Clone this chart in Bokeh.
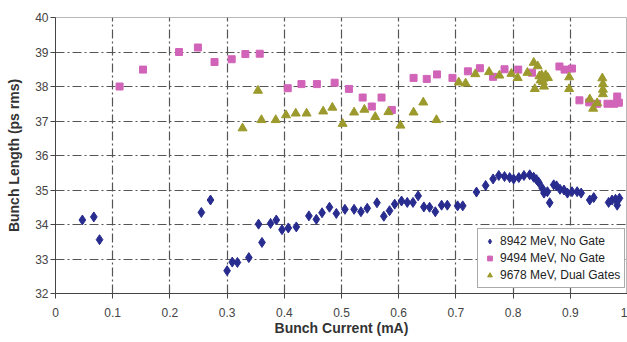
from bokeh.plotting import figure
from bokeh.models import FixedTicker, Range1d, Legend, LegendItem
from bokeh.embed import file_html
from bokeh.resources import INLINE

# ---- data ----
blue_x = [0.047, 0.067, 0.077, 0.255, 0.271, 0.300, 0.309, 0.318, 0.338, 0.355, 0.361, 0.376, 0.386,
          0.396, 0.407, 0.421, 0.443, 0.456, 0.466, 0.479, 0.491, 0.506, 0.522, 0.534, 0.545, 0.562,
          0.574, 0.584, 0.593, 0.605, 0.615, 0.625, 0.634, 0.644, 0.654, 0.664, 0.675, 0.685, 0.703,
          0.712, 0.736, 0.752, 0.765, 0.775, 0.785, 0.794, 0.801, 0.810, 0.819, 0.829, 0.836, 0.841,
          0.845, 0.851, 0.854, 0.860, 0.864, 0.871, 0.876, 0.882, 0.889, 0.895, 0.903, 0.912, 0.919,
          0.934, 0.941, 0.967, 0.973, 0.979, 0.982, 0.986]
blue_y = [34.13, 34.22, 33.56, 34.35, 34.71, 32.66, 32.91, 32.90, 33.04, 34.01, 33.48, 34.03, 34.13,
          33.85, 33.90, 33.93, 34.25, 34.15, 34.34, 34.50, 34.32, 34.44, 34.44, 34.37, 34.47, 34.63,
          34.24, 34.40, 34.59, 34.68, 34.64, 34.64, 34.83, 34.51, 34.50, 34.37, 34.56, 34.56, 34.54,
          34.54, 34.94, 35.13, 35.32, 35.42, 35.39, 35.36, 35.32, 35.36, 35.42, 35.44, 35.37, 35.30,
          35.22, 35.05, 34.91, 34.95, 34.63, 35.15, 35.12, 35.02, 35.00, 34.91, 34.95, 34.95, 34.91,
          34.71, 34.78, 34.64, 34.71, 34.73, 34.56, 34.76]

pink_x = [0.112, 0.153, 0.216, 0.249, 0.278, 0.308, 0.332, 0.357, 0.406, 0.430, 0.457, 0.488, 0.513,
          0.537, 0.553, 0.570, 0.588, 0.626, 0.649, 0.667, 0.694, 0.721, 0.742, 0.765, 0.785, 0.809,
          0.833, 0.881, 0.890, 0.903, 0.916, 0.933, 0.947, 0.965, 0.977, 0.982, 0.985]
pink_y = [38.00, 38.49, 39.00, 39.13, 38.71, 38.79, 38.94, 38.95, 37.95, 38.07, 38.07, 38.11, 37.93,
          37.68, 37.42, 37.68, 37.32, 38.25, 38.22, 38.35, 38.25, 38.44, 38.53, 38.28, 38.50, 38.49,
          38.40, 38.58, 38.49, 38.52, 37.60, 37.54, 37.50, 37.50, 37.50, 37.71, 37.53]

olive_x = [0.327, 0.354, 0.360, 0.385, 0.403, 0.420, 0.439, 0.468, 0.484, 0.502, 0.522, 0.540, 0.559,
           0.582, 0.603, 0.626, 0.643, 0.666, 0.705, 0.717, 0.734, 0.758, 0.776, 0.797, 0.808, 0.825,
           0.836, 0.838, 0.843, 0.846, 0.850, 0.853, 0.857, 0.861, 0.852, 0.848, 0.854, 0.898, 0.898,
           0.934, 0.940, 0.947, 0.956, 0.957, 0.957, 0.957]
olive_y = [36.79, 37.88, 37.03, 37.03, 37.17, 37.22, 37.22, 37.28, 37.39, 36.92, 37.25, 37.33, 37.12,
           37.26, 36.87, 37.25, 37.54, 37.03, 38.12, 38.09, 38.36, 38.42, 38.32, 38.37, 38.25, 38.40,
           38.69, 37.93, 38.59, 38.30, 38.33, 38.23, 38.33, 38.25, 38.13, 38.18, 38.00, 38.27, 37.93,
           37.63, 37.36, 37.52, 38.24, 38.07, 37.91, 37.78]

series_labels = ["8942 MeV, No Gate", "9494 MeV, No Gate", "9678 MeV, Dual Gates"]
x_ticks = [0, 0.1, 0.2, 0.3, 0.4, 0.5, 0.6, 0.7, 0.8, 0.9, 1.0]
x_tick_labels = ["0", "0.1", "0.2", "0.3", "0.4", "0.5", "0.6", "0.7", "0.8", "0.9", "1"]
y_ticks = [32, 33, 34, 35, 36, 37, 38, 39, 40]

FONT = "Liberation Sans"
BLUE = "#282C8E"
PINK = "#D164B8"
OLIVE = "#9C9A2C"

p = figure(width=627, height=342, output_backend="svg", toolbar_location=None,
           x_range=Range1d(0, 1), y_range=Range1d(32, 40),
           min_border_left=55, min_border_right=0, min_border_top=17, min_border_bottom=49)

p.outline_line_color = "#B8B8B8"
p.background_fill_color = "white"
p.border_fill_color = "white"

for ax in (p.xaxis[0], p.yaxis[0]):
    ax.axis_line_color = "#444444"
    ax.major_tick_line_color = "#444444"
    ax.minor_tick_line_color = None
    ax.major_label_text_font = FONT
    ax.major_label_text_font_size = "12px"
    ax.major_label_text_color = "#444444"
    ax.axis_label_text_font = FONT
    ax.axis_label_text_font_size = "14px"
    ax.axis_label_text_font_style = "bold"
    ax.axis_label_text_color = "#333333"

p.xaxis.ticker = FixedTicker(ticks=x_ticks)
p.xaxis.major_label_overrides = dict(zip(x_ticks, x_tick_labels))
p.xaxis.major_tick_in = 0
p.xaxis.major_tick_out = 5
p.xaxis.major_label_standoff = 9
p.xaxis.axis_label = "Bunch Current (mA)"
p.xaxis.axis_label_standoff = 0

p.yaxis.ticker = FixedTicker(ticks=y_ticks)
p.yaxis.major_tick_in = 0
p.yaxis.major_tick_out = 5
p.yaxis.major_label_standoff = 2
p.yaxis.axis_label = "Bunch Length (ps rms)"
p.yaxis.axis_label_standoff = 10

for g in (p.xgrid[0], p.ygrid[0]):
    g.grid_line_color = "#555555"
    g.grid_line_dash = "9 3 2 3"
    g.grid_line_width = 1.2
p.xgrid.ticker = FixedTicker(ticks=x_ticks)
p.ygrid.ticker = FixedTicker(ticks=y_ticks)

r1 = p.scatter(blue_x, blue_y, marker="diamond", size=10, fill_color=BLUE, line_color=BLUE)
r2 = p.scatter(pink_x, pink_y, marker="square", size=7, fill_color=PINK, line_color=PINK)
r3 = p.scatter(olive_x, olive_y, marker="triangle", size=9, fill_color=OLIVE, line_color=OLIVE)

legend = Legend(items=[LegendItem(label=series_labels[0], renderers=[r1]),
                       LegendItem(label=series_labels[1], renderers=[r2]),
                       LegendItem(label=series_labels[2], renderers=[r3])],
                location=(422, 5))
legend.label_text_font = FONT
legend.label_text_font_size = "12px"
legend.label_text_color = "#222222"
legend.glyph_width = 15
legend.glyph_height = 12
legend.label_standoff = 3
legend.spacing = 1
legend.padding = 4
legend.margin = 0
legend.label_height = 16
legend.border_line_color = "#555555"
legend.border_line_width = 1
legend.background_fill_alpha = 1
p.add_layout(legend)

open("out.html", "w").write(file_html(p, INLINE))
